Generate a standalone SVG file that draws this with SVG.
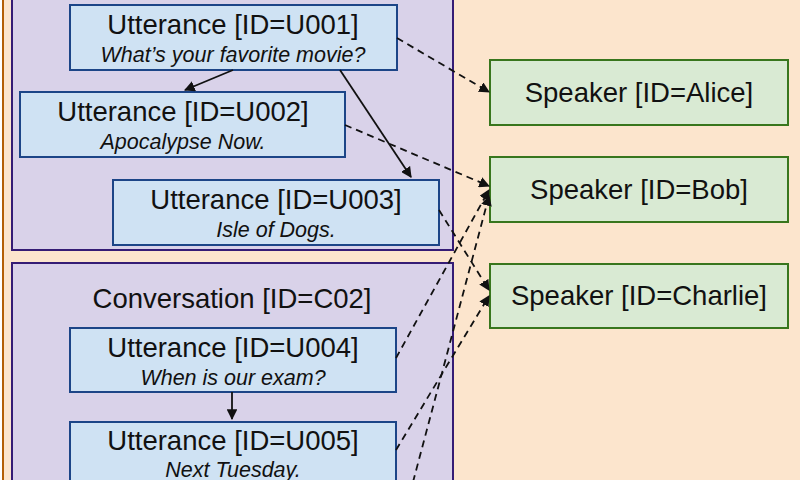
<svg xmlns="http://www.w3.org/2000/svg" width="800" height="480" viewBox="0 0 800 480">
<style>
.u{fill:#cfe2f3;stroke:#1c4587;stroke-width:2}
.s{fill:#d9ead3;stroke:#38761d;stroke-width:2}
.c{fill:#d9d2e9;stroke:#351c75;stroke-width:2}
.t{font-family:"Liberation Sans",Arial,sans-serif;font-size:27.5px;fill:#111;text-anchor:middle}
.i{font-family:"Liberation Sans",Arial,sans-serif;font-size:21.5px;font-style:italic;fill:#111;text-anchor:middle}
.a{stroke:#111;stroke-width:1.8;fill:none;marker-end:url(#m)}
.d{stroke:#111;stroke-width:1.8;fill:none;stroke-dasharray:7,5;marker-end:url(#m)}
</style>
<defs><marker id="m" viewBox="0 0 10 10" refX="9" refY="5" markerWidth="6" markerHeight="6" orient="auto"><path d="M0,0L10,5L0,10z" fill="#111"/></marker></defs>
<rect x="3" y="-5" width="800" height="490" fill="#fce5cd" stroke="#b45f06" stroke-width="2"/>
<g id="conv1"><rect class="c" x="12" y="-5" width="441" height="255"/></g>
<g id="conv2"><rect class="c" x="12" y="263" width="441" height="230"/><text class="t" x="232" y="308">Conversation [ID=C02]</text></g>
<g id="U001"><rect class="u" x="70" y="5" width="327" height="65"/><text class="t" x="233" y="34">Utterance [ID=U001]</text><text class="i" x="233" y="62">What’s your favorite movie?</text></g>
<g id="U002"><rect class="u" x="20" y="92" width="325" height="65"/><text class="t" x="183" y="121">Utterance [ID=U002]</text><text class="i" x="183" y="149">Apocalypse Now.</text></g>
<g id="U003"><rect class="u" x="113" y="180" width="326" height="65"/><text class="t" x="276" y="209">Utterance [ID=U003]</text><text class="i" x="276" y="237">Isle of Dogs.</text></g>
<g id="U004"><rect class="u" x="70" y="328" width="326" height="64"/><text class="t" x="233" y="357">Utterance [ID=U004]</text><text class="i" x="233" y="385">When is our exam?</text></g>
<g id="U005"><rect class="u" x="70" y="422" width="326" height="64"/><text class="t" x="233" y="450">Utterance [ID=U005]</text><text class="i" x="233" y="477">Next Tuesday.</text></g>
<g id="Alice"><rect class="s" x="490" y="60" width="298" height="65"/><text class="t" x="639" y="102">Speaker [ID=Alice]</text></g>
<g id="Bob"><rect class="s" x="490" y="157" width="298" height="65"/><text class="t" x="639" y="199">Speaker [ID=Bob]</text></g>
<g id="Charlie"><rect class="s" x="490" y="264" width="298" height="64"/><text class="t" x="639" y="305">Speaker [ID=Charlie]</text></g>
<g id="connectors">
<path class="a" d="M233,70L185,90"/>
<path class="a" d="M340,70L411,177"/>
<path class="a" d="M232,392L232,419"/>
<path class="d" d="M397,38L489,92"/>
<path class="d" d="M345,125L489,186"/>
<path class="d" d="M439,210L489,290"/>
<path class="d" d="M396,358L489,190"/>
<path class="d" d="M396,450L489,296"/>
<path class="d" d="M413,482L489,196"/>
</g>
</svg>
